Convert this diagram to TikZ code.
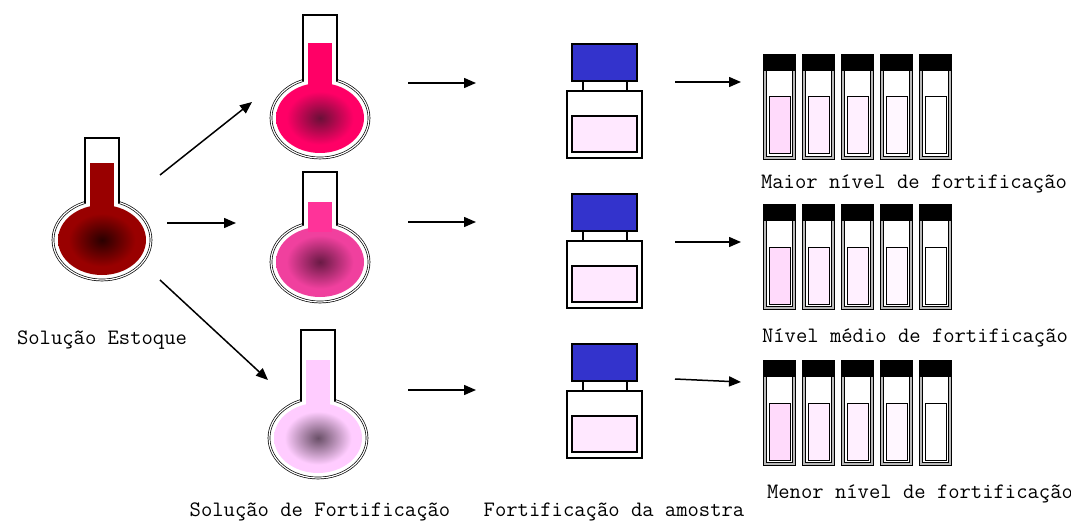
\documentclass[tikz,border=0pt]{standalone}
\usepackage{fontspec}
\usepackage{tikz}
\usepackage{xcolor}
\usetikzlibrary{arrows.meta}

\definecolor{stockred}{HTML}{990000}
\definecolor{stockdark}{HTML}{2A0000}
\definecolor{highpink}{HTML}{FF0066}
\definecolor{highdark}{HTML}{6A1038}
\definecolor{midpink}{HTML}{F0409E}
\definecolor{midtube}{HTML}{FF3399}
\definecolor{middark}{HTML}{6A1A45}
\definecolor{lowpink}{HTML}{FFCCFF}
\definecolor{lowdark}{HTML}{6A5068}
\definecolor{capblue}{HTML}{3333CC}
\definecolor{samplepink}{HTML}{FFE8FF}
\definecolor{vialA}{HTML}{FFDAFB}
\definecolor{vialB}{HTML}{FFEDFF}
\definecolor{vialC}{HTML}{FFF0FF}
\definecolor{vialD}{HTML}{FFF7FF}

% dark core fading out to the liquid colour
\colorlet{coreinner}{black}
\colorlet{coreouter}{white}
\pgfdeclareradialshading[coreinner,coreouter]{core}{\pgfpoint{0bp}{0bp}}{%
  color(0bp)=(coreinner); color(3bp)=(coreinner!85!coreouter);
  color(19bp)=(coreouter); color(50bp)=(coreouter)}

% flask: centre x, centre y, tube top, liquid top, bulb colour, core colour, tube colour
\newcommand\flask[7]{%
  \draw[glass,fill=white] (#1,#2) ellipse [x radius=49pt,y radius=40pt];
  \fill[white] (#1-16,#3) rectangle (#1+16,#2);
  \draw[line width=1.2pt] (#1-17,#2-37) -- (#1-17,#3) -- (#1+17,#3) -- (#1+17,#2-37);
  \colorlet{coreinner}{#6}\colorlet{coreouter}{#5}%
  \shade[shading=core] (#1,#2) ellipse [x radius=44pt,y radius=35pt];
  \fill[#7] (#1-12,#4) rectangle (#1+12,#2-30);
}

% sample bottle, shifted down by #1
\newcommand\bottle[1]{%
  \draw[outline,fill=capblue] (572,44+#1) rectangle (637,81+#1);
  \draw[outline] (583,81+#1) -- (583,91+#1) (627,81+#1) -- (627,91+#1);
  \draw[outline,fill=white] (567,91+#1) rectangle (642,158+#1);
  \draw[outline,fill=samplepink] (572,116+#1) rectangle (637,152+#1);
}

% vial: left x, top y, liquid colour
\newcommand\vial[3]{%
  \draw[vialglass,fill=white] (#1,#2) rectangle (#1+29,#2+102);
  \fill[black] (#1-1,#2-1) rectangle (#1+30,#2+15);
  \draw[line width=1pt,fill=#3] (#1+4,#2+41) rectangle (#1+25,#2+98);
}

\begin{document}
\begin{tikzpicture}[x=1pt,y=-1pt,
  every node/.style={font=\ttfamily\fontsize{22}{24}\selectfont},
  outline/.style={draw=black,line width=1.2pt},
  glass/.style={draw=black,line width=0.7pt,double=white,double distance=1.2pt},
  vialglass/.style={draw=black,line width=0.8pt,double=gray!55,double distance=1.6pt},
  flow/.style={line width=1.5pt,-{Triangle[length=12pt,width=10pt]}}]
\useasboundingbox (0,0) rectangle (1071,524);

% flasks
\flask{102}{240}{138}{163}{stockred}{stockdark}{stockred}
\flask{320}{118}{15}{43}{highpink}{highdark}{highpink}
\flask{320}{262}{172}{202}{midpink}{middark}{midtube}
\flask{318}{438}{330}{360}{lowpink}{lowdark}{lowpink}

% bottles
\bottle{0}
\bottle{150}
\bottle{300}

% vials
\foreach \row/\dy in {0/56,1/206,2/362}{
  \vial{765}{\dy}{vialA}
  \vial{804}{\dy}{vialB}
  \vial{843}{\dy}{vialC}
  \vial{882}{\dy}{vialD}
  \vial{921}{\dy}{white}
}

% arrow ends
\coordinate (stock-a) at (160,175);
\coordinate (stock-b) at (167,223);
\coordinate (stock-c) at (160,280);
\coordinate (high-in) at (252,102);
\coordinate (mid-in) at (236,223);
\coordinate (low-in) at (268,380);
\coordinate (high-out) at (408,83);
\coordinate (mid-out) at (408,222);
\coordinate (low-out) at (408,390);
\coordinate (bottle1-in) at (476,83);
\coordinate (bottle2-in) at (476,222);
\coordinate (bottle3-in) at (476,390);
\coordinate (bottle1-out) at (675,82);
\coordinate (bottle2-out) at (675,242);
\coordinate (bottle3-out) at (675,379);
\coordinate (vials1-in) at (741,82);
\coordinate (vials2-in) at (741,242);
\coordinate (vials3-in) at (741,382);

\draw[flow] (stock-a) -- (high-in);
\draw[flow] (stock-b) -- (mid-in);
\draw[flow] (stock-c) -- (low-in);
\draw[flow] (high-out) -- (bottle1-in);
\draw[flow] (mid-out) -- (bottle2-in);
\draw[flow] (low-out) -- (bottle3-in);
\draw[flow] (bottle1-out) -- (vials1-in);
\draw[flow] (bottle2-out) -- (vials2-in);
\draw[flow] (bottle3-out) -- (vials3-in);

% labels
\node (stocklabel) at (102,340) {Solução Estoque};
\node (spikelabel) at (320,512) {Solução de Fortificação};
\node (samplelabel) at (614,512) {Fortificação da amostra};
\node (highlabel) at (914,184) {Maior nível de fortificação};
\node (midlabel) at (915,338) {Nível médio de fortificação};
\node (lowlabel) at (920,494) {Menor nível de fortificação};
\end{tikzpicture}
\end{document}
